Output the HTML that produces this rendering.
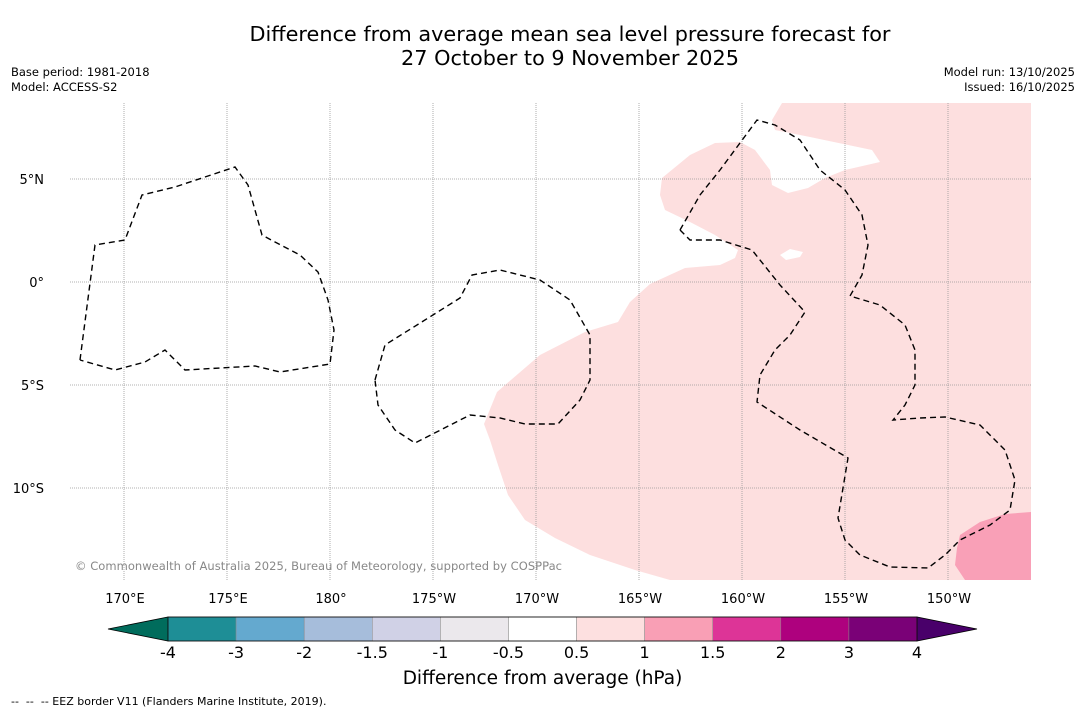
<!DOCTYPE html>
<html><head><meta charset="utf-8"><style>
body{margin:0;background:#fff;font-family:"DejaVu Sans","Liberation Sans",sans-serif;}
#wrap{position:relative;width:1085px;height:713px;overflow:hidden;background:#fff}
.t{position:absolute;color:#000}
</style></head><body>
<div id="wrap">
<div class="t" style="left:0;width:1140px;top:22px;text-align:center;font-size:20.8px;line-height:24px">Difference from average mean sea level pressure forecast for<br>27 October to 9 November 2025</div>
<div class="t" style="left:11px;top:65px;font-size:11.5px;line-height:15px">Base period: 1981-2018<br>Model: ACCESS-S2</div>
<div class="t" style="right:10px;top:65px;font-size:11.5px;line-height:15px;text-align:right">Model run: 13/10/2025<br>Issued: 16/10/2025</div>
<svg id="map" width="1085" height="713" style="position:absolute;left:0;top:0">
<g id="land">
<polygon fill="#fddfdf" points="484,424 497,392 540,355 585,332 618,322 630,302 650,284 685,268 720,265 735,258 738,250 715,235 690,222 665,210 660,195 662,178 690,155 715,143 740,142 755,150 770,170 772,185 788,193 808,188 825,178 845,170 880,162 872,150 810,137 775,130 772,120 782,103 1031,103 1031,580 670,580 635,570 590,555 555,538 525,520 508,495 498,465 490,440"/>
<polygon fill="#fff" points="780,255 790,249 803,252 800,257 786,260"/>
<polygon fill="#f9a0b7" points="960,535 980,522 1005,514 1031,512 1031,580 965,580 955,565 957,548"/>
</g>
<g id="grid" stroke="#999" stroke-width="0.8" stroke-dasharray="1,1"></g>
<g fill="none" stroke="#000" stroke-width="1.4" stroke-dasharray="6,4">
<polyline points="80,360 95,245 125,240 142,195 175,187 235,167 248,185 262,235 275,242 300,255 318,272 328,300 334,330 330,364 280,372 255,366 185,370 165,350 145,362 115,370 80,360"/>
<polyline points="375,380 385,345 460,298 472,275 500,270 540,280 570,300 590,335 590,380 580,400 558,424 525,424 500,418 470,415 415,443 395,430 378,405 375,380"/>
<polyline points="680,230 700,195 720,170 757,120 775,125 800,140 820,170 845,190 862,215 868,245 862,275 850,296 880,305 905,325 915,350 915,385 905,405 893,420 920,418 945,417 980,425 1005,450 1015,480 1010,510 990,525 960,540 945,555 928,568 890,567 860,555 845,540 838,518 848,458 800,430 757,402 760,375 775,350 790,335 805,312 780,285 752,250 720,240 690,240 680,230"/>
</g>
<text x="75" y="570" font-size="11.5" fill="#888" font-family="DejaVu Sans, sans-serif" textLength="487">© Commonwealth of Australia 2025, Bureau of Meteorology, supported by COSPPac</text>
<g id="axes" font-size="13" font-family="DejaVu Sans, sans-serif"></g>
<g id="cbar"></g>
</svg>
<div class="t" style="left:0;width:1085px;top:668px;text-align:center;font-size:18.5px">Difference from average (hPa)</div>
<div class="t" style="left:11px;top:695px;font-size:11px">--&nbsp; --&nbsp; -- EEZ border V11 (Flanders Marine Institute, 2019).</div>
</div>
<script>
const lonLabels=["170°E","175°E","180°","175°W","170°W","165°W","160°W","155°W","150°W"];
const latLabels=["5°N","0°","5°S","10°S"];
const cbTicks=["-4","-3","-2","-1.5","-1","-0.5","0.5","1","1.5","2","3","4"];
const cbColors=["#1e8e96","#64a9cf","#a6bddb","#d0d1e6","#ebe8ec","#ffffff","#fde0e0","#f99fb5","#dd3497","#ae017e","#7a0177"];
const ns="http://www.w3.org/2000/svg";
const X0=124,DX=103.0,Y0=179,DY=103.0;
const gx=i=>X0+i*DX, gy=j=>Y0+j*DY;
const grid=document.getElementById('grid'),axes=document.getElementById('axes');
function mk(t,a,p){const e=document.createElementNS(ns,t);for(const k in a)e.setAttribute(k,a[k]);p.appendChild(e);return e;}
lonLabels.forEach((l,i)=>{
 const ln=mk('line',{x1:gx(i),x2:gx(i),y1:103,y2:580},grid);
 
 
 const t=mk('text',{x:gx(i)+1,y:603,'text-anchor':'middle'},axes);t.textContent=l;
 
 
});
latLabels.forEach((l,j)=>{
 const ln=mk('line',{x1:70,x2:1031,y1:gy(j),y2:gy(j)},grid);
 
 
 const t=mk('text',{x:44,y:gy(j)+5,'text-anchor':'end'},axes);t.textContent=l;
 
 
});
const cb=document.getElementById('cbar');
const C0=168,C1=917,CY=617,CH=24,W=(C1-C0)/cbColors.length;
const lt=mk('polygon',{points:`108,${CY+CH/2} ${C0},${CY} ${C0},${CY+CH}`,fill:'#006c5c',stroke:'#000','stroke-width':0.8},cb);


const rt=mk('polygon',{points:`977,${CY+CH/2} ${C1},${CY} ${C1},${CY+CH}`,fill:'#49006a',stroke:'#000','stroke-width':0.8},cb);


cbColors.forEach((c,i)=>{
 const r=mk('rect',{x:C0+i*W,y:CY,width:W,height:CH,fill:c,stroke:'#888','stroke-width':0.5},cb);
 
 
});
mk('rect',{x:C0,y:CY,width:C1-C0,height:CH,fill:'none',stroke:'#000','stroke-width':0.8},cb);
cbTicks.forEach((l,i)=>{
 const t=mk('text',{x:C0+i*W,y:658,'text-anchor':'middle','font-size':16,'font-family':'DejaVu Sans, sans-serif'},cb);t.textContent=l;
 
 
});
</script>
</body></html>
